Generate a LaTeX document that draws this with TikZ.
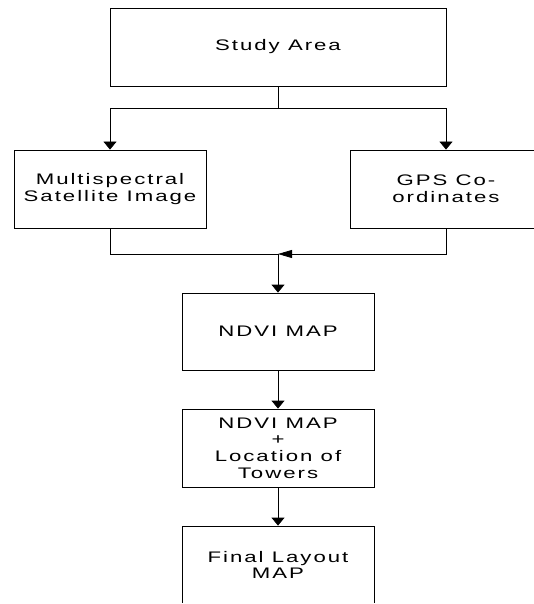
\documentclass[tikz,border=0pt]{standalone}
\usepackage{fontspec}
\usetikzlibrary{arrows.meta}
\newfontfamily\boxfont[FakeStretch=1.45,LetterSpace=13]{Liberation Sans}
\tikzset{
  stepbox/.style={draw, line width=0.8pt, rectangle, minimum width=192pt, minimum height=78pt, inner sep=0pt,
    align=center, font=\boxfont\fontsize{15.3}{16.7}\selectfont},
  link/.style={line width=0.8pt},
  downarrow/.style={link, -{Triangle[length=8pt,width=13pt]}},
  leftarrow/.style={link, -{Triangle[length=14pt,width=8pt]}}
}
\begin{document}
\begin{tikzpicture}[x=1pt,y=-1pt]
\useasboundingbox (0,0) rectangle (534,604);
\clip (0,0) rectangle (534,602.6);
\node[stepbox, minimum width=336pt] (study) at (278,47) {Study Area};
\node[stepbox] (ms) at (110,189) {Multispectral\\Satellite Image};
\node[stepbox] (gps) at (446,189) {GPS Co-\\ordinates};
\node[stepbox, minimum height=77pt] (ndvi) at (278,331.5) {NDVI MAP};
\node[stepbox] (ndvit) at (278,448) {NDVI MAP\\+\\Location of\\Towers};
\node[stepbox] (final) at (278,565) {Final Layout\\MAP};
\coordinate (split) at (278,108);
\coordinate (join) at (278,254);
\draw[link] (study.south) -- (split);
\draw[downarrow] (split) -| (ms.north);
\draw[downarrow] (split) -| (gps.north);
\draw[link] (ms.south) |- (join);
\draw[leftarrow] (gps.south) |- (join);
\draw[downarrow] (join) -- (ndvi.north);
\draw[downarrow] (ndvi.south) -- (ndvit.north);
\draw[downarrow] (ndvit.south) -- (final.north);
\end{tikzpicture}
\end{document}
